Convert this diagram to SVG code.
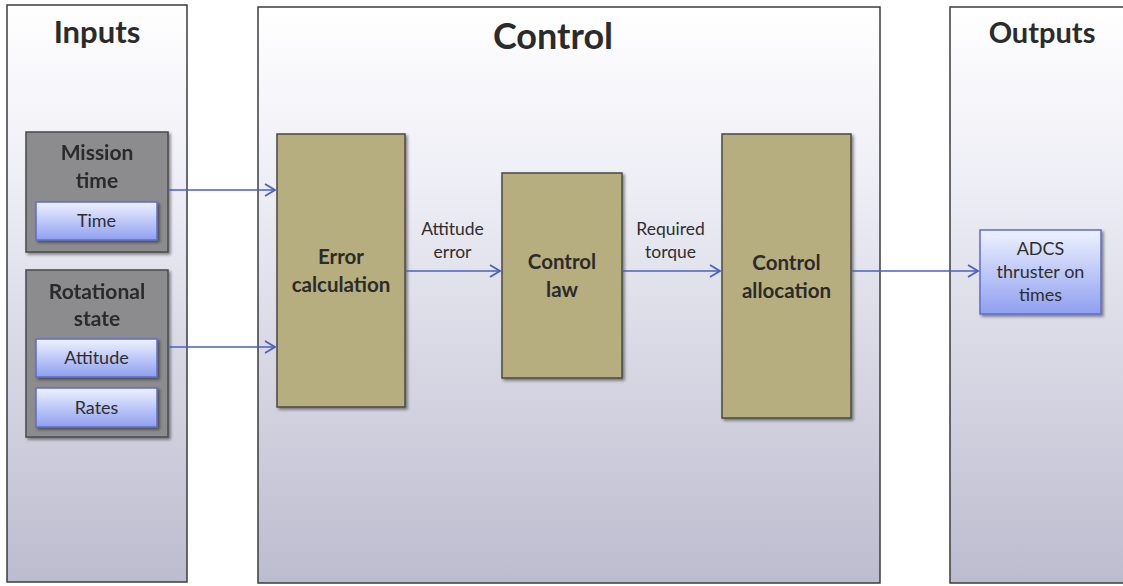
<svg xmlns="http://www.w3.org/2000/svg" width="1123" height="586" viewBox="0 0 1123 586">
<defs>
<linearGradient id="panelGrad" x1="0" y1="0" x2="0" y2="1">
<stop offset="0" stop-color="#ffffff"/>
<stop offset="0.3" stop-color="#eeeef6"/>
<stop offset="1" stop-color="#bcbccf"/>
</linearGradient>
<linearGradient id="blueGrad" x1="0" y1="0" x2="0" y2="1">
<stop offset="0" stop-color="#eef2ff"/>
<stop offset="1" stop-color="#8f9ff0"/>
</linearGradient>
<filter id="shadow" x="-10%" y="-10%" width="130%" height="130%">
<feGaussianBlur in="SourceAlpha" stdDeviation="1.5"/>
<feOffset dx="1.5" dy="2" result="o"/>
<feComponentTransfer><feFuncA type="linear" slope="0.45"/></feComponentTransfer>
<feMerge><feMergeNode/><feMergeNode in="SourceGraphic"/></feMerge>
</filter>
<marker id="arrow" markerUnits="userSpaceOnUse" markerWidth="14" markerHeight="16" refX="11" refY="7" orient="auto">
<path d="M1,1 L11,7 L1,13" fill="none" stroke="#4c5fc0" stroke-width="1.8"/>
</marker>
</defs>
<style>
.panel{fill:url(#panelGrad);stroke:#3c3c3c;stroke-width:1.5}
.title{font-family:Lato,"Liberation Sans",sans-serif;font-weight:bold;fill:#2b2b2b;text-anchor:middle}
.group{fill:#8c8c8e;stroke:#4a4a4a;stroke-width:1.5}
.gtext{font-family:Lato,"Liberation Sans",sans-serif;font-weight:bold;font-size:21px;fill:#2a2a2a;text-anchor:middle}
.blue{fill:url(#blueGrad);stroke:#5f6cc8;stroke-width:1.5}
.btext{font-family:Lato,"Liberation Sans",sans-serif;font-size:18px;fill:#2e2e2e;text-anchor:middle}
.olive{fill:#b7ae80;stroke:#4a4a40;stroke-width:1.5}
.otext{font-family:Lato,"Liberation Sans",sans-serif;font-weight:bold;font-size:20.5px;fill:#2b2b2b;text-anchor:middle}
.label{font-family:Lato,"Liberation Sans",sans-serif;font-size:17.5px;fill:#2e2e2e;text-anchor:middle}
.conn{fill:none;stroke:#4c5fc0;stroke-width:1.6;marker-end:url(#arrow)}
</style>
<rect width="1123" height="586" fill="#ffffff"/>

<g id="inputs-panel">
<rect class="panel" x="7" y="5" width="180" height="577"/>
<text class="title" x="97" y="43" font-size="31">Inputs</text>
</g>
<g id="control-panel">
<rect class="panel" x="258" y="7" width="622" height="576"/>
<text class="title" x="553" y="49" font-size="36">Control</text>
</g>
<g id="outputs-panel">
<rect class="panel" x="950" y="7" width="190" height="576"/>
<text class="title" x="1042" y="43" font-size="29">Outputs</text>
</g>

<g id="mission-time" filter="url(#shadow)">
<rect class="group" x="26" y="132" width="142" height="120"/>
<text class="gtext" x="97" y="160">Mission</text>
<text class="gtext" x="97" y="188">time</text>
</g>
<g id="time">
<rect class="blue" x="36" y="202" width="121" height="38" filter="url(#shadow)"/>
<text class="btext" x="96.5" y="227">Time</text>
</g>
<g id="rotational-state" filter="url(#shadow)">
<rect class="group" x="26" y="270" width="142" height="167"/>
<text class="gtext" x="97" y="299">Rotational</text>
<text class="gtext" x="97" y="326">state</text>
</g>
<g id="attitude">
<rect class="blue" x="36" y="339" width="121" height="38" filter="url(#shadow)"/>
<text class="btext" x="96.5" y="364">Attitude</text>
</g>
<g id="rates">
<rect class="blue" x="36" y="388" width="121" height="39" filter="url(#shadow)"/>
<text class="btext" x="96.5" y="414">Rates</text>
</g>

<g id="error-calculation">
<rect class="olive" x="277" y="134" width="128" height="273" filter="url(#shadow)"/>
<text class="otext" x="341" y="264">Error</text>
<text class="otext" x="341" y="292">calculation</text>
</g>
<g id="control-law">
<rect class="olive" x="502" y="173" width="120" height="205" filter="url(#shadow)"/>
<text class="otext" x="562" y="269">Control</text>
<text class="otext" x="562" y="297">law</text>
</g>
<g id="control-allocation">
<rect class="olive" x="722" y="134" width="129" height="284" filter="url(#shadow)"/>
<text class="otext" x="786.5" y="270">Control</text>
<text class="otext" x="786.5" y="298">allocation</text>
</g>
<g id="adcs-thruster">
<rect class="blue" x="980" y="230" width="121" height="84" filter="url(#shadow)"/>
<text class="btext" x="1040.5" y="255">ADCS</text>
<text class="btext" x="1040.5" y="278">thruster on</text>
<text class="btext" x="1040.5" y="301">times</text>
</g>

<g id="connectors">
<line class="conn" x1="168" y1="190" x2="275" y2="190"/>
<line class="conn" x1="168" y1="347" x2="275" y2="347"/>
<line class="conn" x1="405" y1="271" x2="500" y2="271"/>
<line class="conn" x1="622" y1="271" x2="720" y2="271"/>
<line class="conn" x1="851" y1="271" x2="978" y2="271"/>
<text class="label" x="452.5" y="235">Attitude</text>
<text class="label" x="452.5" y="258">error</text>
<text class="label" x="670.5" y="235">Required</text>
<text class="label" x="670.5" y="258">torque</text>
</g>
</svg>
